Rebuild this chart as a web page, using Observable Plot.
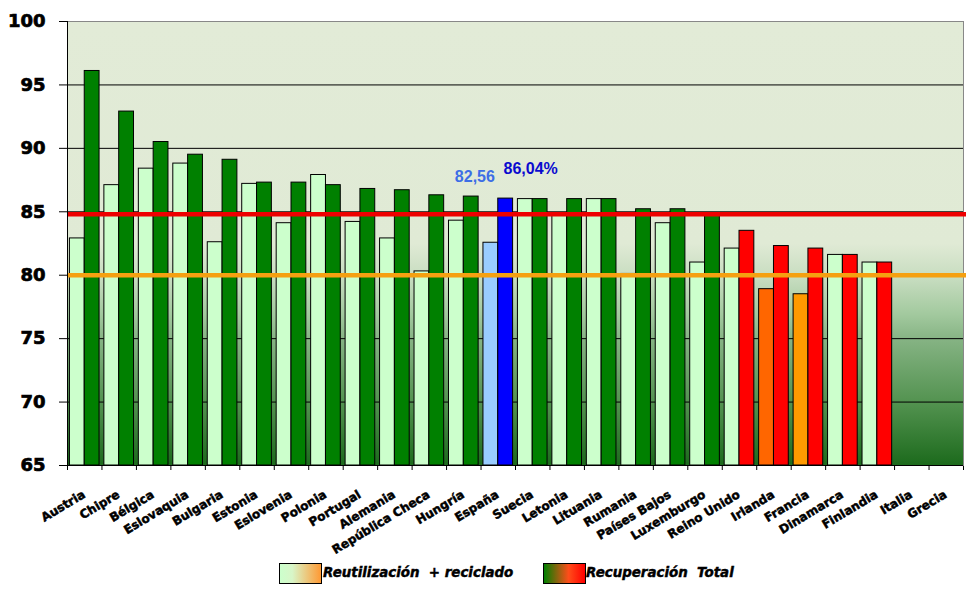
<!DOCTYPE html>
<html>
<head>
<meta charset="utf-8">
<script src="https://cdn.jsdelivr.net/npm/d3@7"></script>
<script src="https://cdn.jsdelivr.net/npm/@observablehq/plot@0.6"></script>
<style>
  html, body { margin: 0; padding: 0; background: #fff; }
  #chart { position: relative; width: 969px; }
  #chart svg g[aria-label^="y-axis"] text { stroke: #000; stroke-width: 0.7px; }
  #legend { position: relative; width: 969px; height: 40px; font-family: "DejaVu Sans", sans-serif; font-weight: bold; font-style: oblique; font-size: 13.4px; }
  .sw { position: absolute; top: 11px; width: 41px; height: 19px; border: 1px solid #000; }
  .lt { position: absolute; top: 11px; line-height: 20px; white-space: pre; color: #000; -webkit-text-stroke: 0.45px #000; }
</style>
</head>
<body>
<div id="chart"></div>
<div id="legend">
  <div class="sw" style="left:279px; background: linear-gradient(to right, #ccffcc 0%, #d8f6c8 30%, #ff9933 100%);"></div>
  <div class="lt" id="lg1" style="left:323px;"></div>
  <div class="sw" style="left:543px; background: linear-gradient(to right, #008000 0%, #ff4d1a 60%, #ff0000 100%);"></div>
  <div class="lt" id="lg2" style="left:586px;"></div>
</div>
<script>
// ---- data ----
const countries = ["Austria","Chipre","Bélgica","Eslovaquia","Bulgaria","Estonia","Eslovenia","Polonia","Portugal","Alemania","República Checa","Hungría","España","Suecia","Letonia","Lituania","Rumania","Países Bajos","Luxemburgo","Reino Unido","Irlanda","Francia","Dinamarca","Finlandia","Italia","Grecia"];
const reuseRecycling = [82.9, 87.1, 88.4, 88.8, 82.6, 87.2, 84.1, 87.9, 84.2, 82.9, 80.3, 84.3, 82.56, 86.0, 84.7, 86.0, 80.1, 84.1, 81.0, 82.1, 78.9, 78.5, 81.6, 81.0, null, null];
const totalRecovery = [96.1, 92.9, 90.5, 89.5, 89.1, 87.3, 87.3, 87.1, 86.8, 86.7, 86.3, 86.2, 86.04, 86.0, 86.0, 86.0, 85.2, 85.2, 84.9, 83.5, 82.3, 82.1, 81.6, 81.0, null, null];
const targetRecovery = [84.8];
const targetReuse = [80];
const seriesNames = ["Reutilización  + reciclado", "Recuperación  Total"];
const spainLabels = ["82,56", "86,04%"];
const yDomain = [65, 100];

// ---- styles ----
const reuseSpecial = {"España": "#99ccff", "Irlanda": "#ff6600", "Francia": "#ff9900"};
const recoverySpecial = {"España": "#0000ff"};

const rows = countries.flatMap((c, i) => [
  {i, c, s: 0, v: reuseRecycling[i]},
  {i, c, s: 1, v: totalRecovery[i]}
]).filter(d => d.v != null);

function fillFor(d) {
  if (d.s === 0) return reuseSpecial[d.c] || "#ccffcc";
  if (recoverySpecial[d.c]) return recoverySpecial[d.c];
  return d.v < targetRecovery[0] ? "#ff0000" : "#008000";
}

const spainIdx = countries.indexOf("España");

const defs = () => {
  const d = d3.create("svg:defs");
  const g = d.append("linearGradient").attr("id", "bgGrad")
    .attr("x1", 0).attr("y1", 0).attr("x2", 0).attr("y2", 1);
  [[0, "#e2ebd7"], [0.5, "#e0ead5"], [0.58, "#c6dcbf"], [0.66, "#a2c99e"], [0.72, "#84b282"], [0.86, "#52924f"], [1, "#1c6a1c"]]
    .forEach(([o, c]) => g.append("stop").attr("offset", o).attr("stop-color", c));
  return d.node();
};

const chart = Plot.plot({
  width: 969,
  height: 552,
  marginLeft: 67,
  marginRight: 6,
  marginTop: 21,
  marginBottom: 87,
  style: {fontFamily: "DejaVu Sans", fontSize: "18px", fontWeight: "bold", background: "white", overflow: "visible", color: "#000"},
  x: {domain: [0, countries.length], ticks: countries.length, tickSize: 5, tickFormat: () => "", label: null},
  y: {domain: yDomain, ticks: 7, tickSize: 8, tickPadding: 14, label: null},
  marks: [
    defs,
    Plot.frame({fill: "url(#bgGrad)", stroke: "#888"}),
    Plot.ruleY([70, 75, 80, 85, 90, 95], {stroke: "#000", strokeWidth: 1}),
    Plot.rectY(rows, {
      x1: d => d.i + (d.s === 0 ? 0.07 : 0.5),
      x2: d => d.i + (d.s === 0 ? 0.5 : 0.93),
      y1: () => yDomain[0],
      y2: "v",
      fill: fillFor,
      stroke: "#000",
      strokeWidth: 1
    }),
    Plot.ruleY(targetReuse, {stroke: "#f5a011", strokeWidth: 4.5, insetRight: -3}),
    Plot.ruleY(targetRecovery, {stroke: "#ee0000", strokeWidth: 4.5, insetRight: -3}),
    Plot.ruleX([0], {stroke: "#000"}),
    Plot.ruleY([yDomain[0]], {stroke: "#000"}),
    Plot.text(countries, {
      x: (d, i) => i + 0.5,
      frameAnchor: "bottom",
      dy: 24,
      dx: -3,
      rotate: -31,
      textAnchor: "end",
      lineAnchor: "top",
      fontSize: 12,
      fontWeight: "bold",
      fill: "#000",
      stroke: "#000",
      strokeWidth: 0.5
    }),
    Plot.text([spainLabels[0]], {
      x: () => spainIdx + 0.285,
      y: () => reuseRecycling[spainIdx],
      dx: -16,
      dy: -66,
      text: d => d,
      fontFamily: "Liberation Sans",
      fontSize: 16,
      fontWeight: "bold",
      fill: "#3c6ee6"
    }),
    Plot.text([spainLabels[1]], {
      x: () => spainIdx + 0.715,
      y: () => totalRecovery[spainIdx],
      dx: 25,
      dy: -30,
      text: d => d,
      fontFamily: "Liberation Sans",
      fontSize: 16,
      fontWeight: "bold",
      fill: "#0a0acf"
    })
  ]
});
document.getElementById("chart").appendChild(chart);
document.getElementById("lg1").textContent = seriesNames[0];
document.getElementById("lg2").textContent = seriesNames[1];
</script>
</body>
</html>
